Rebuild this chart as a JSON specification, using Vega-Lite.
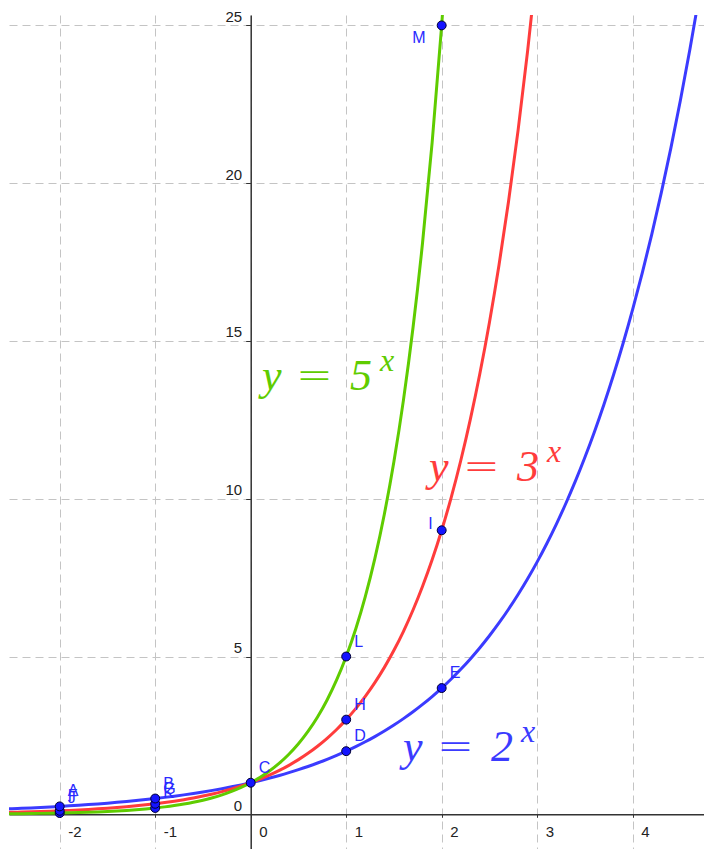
{
  "$schema": "https://vega.github.io/schema/vega-lite/v6.json",
  "width": 695,
  "height": 834,
  "autosize": {"type": "none"},
  "padding": {"left": 9, "top": 15, "right": 0, "bottom": 0},
  "background": "white",
  "config": {"view": {"stroke": null}},
  "datasets": {
    "curves": [
      {"f":"2^x","x":-2.6,"y":0.1649},{"f":"2^x","x":-2.5,"y":0.1768},{"f":"2^x","x":-2.4,"y":0.1895},{"f":"2^x","x":-2.3,"y":0.2031},{"f":"2^x","x":-2.2,"y":0.2176},{"f":"2^x","x":-2.1,"y":0.2333},{"f":"2^x","x":-2.0,"y":0.25},{"f":"2^x","x":-1.9,"y":0.2679},{"f":"2^x","x":-1.8,"y":0.2872},{"f":"2^x","x":-1.7,"y":0.3078},{"f":"2^x","x":-1.6,"y":0.3299},{"f":"2^x","x":-1.5,"y":0.3536},{"f":"2^x","x":-1.4,"y":0.3789},{"f":"2^x","x":-1.3,"y":0.4061},{"f":"2^x","x":-1.2,"y":0.4353},{"f":"2^x","x":-1.1,"y":0.4665},{"f":"2^x","x":-1.0,"y":0.5},{"f":"2^x","x":-0.9,"y":0.5359},{"f":"2^x","x":-0.8,"y":0.5743},{"f":"2^x","x":-0.7,"y":0.6156},{"f":"2^x","x":-0.6,"y":0.6598},{"f":"2^x","x":-0.5,"y":0.7071},{"f":"2^x","x":-0.4,"y":0.7579},{"f":"2^x","x":-0.3,"y":0.8123},{"f":"2^x","x":-0.2,"y":0.8706},{"f":"2^x","x":-0.1,"y":0.933},{"f":"2^x","x":0,"y":1},{"f":"2^x","x":0.1,"y":1.0718},{"f":"2^x","x":0.2,"y":1.1487},{"f":"2^x","x":0.3,"y":1.2311},{"f":"2^x","x":0.4,"y":1.3195},{"f":"2^x","x":0.5,"y":1.4142},{"f":"2^x","x":0.6,"y":1.5157},{"f":"2^x","x":0.7,"y":1.6245},{"f":"2^x","x":0.8,"y":1.7411},{"f":"2^x","x":0.9,"y":1.8661},{"f":"2^x","x":1.0,"y":2},{"f":"2^x","x":1.1,"y":2.1435},{"f":"2^x","x":1.2,"y":2.2974},{"f":"2^x","x":1.3,"y":2.4623},{"f":"2^x","x":1.4,"y":2.639},{"f":"2^x","x":1.5,"y":2.8284},{"f":"2^x","x":1.6,"y":3.0314},{"f":"2^x","x":1.7,"y":3.249},{"f":"2^x","x":1.8,"y":3.4822},{"f":"2^x","x":1.9,"y":3.7321},{"f":"2^x","x":2.0,"y":4},{"f":"2^x","x":2.1,"y":4.2871},{"f":"2^x","x":2.2,"y":4.5948},{"f":"2^x","x":2.3,"y":4.9246},{"f":"2^x","x":2.4,"y":5.278},{"f":"2^x","x":2.5,"y":5.6569},{"f":"2^x","x":2.6,"y":6.0629},{"f":"2^x","x":2.7,"y":6.498},{"f":"2^x","x":2.8,"y":6.9644},{"f":"2^x","x":2.9,"y":7.4643},{"f":"2^x","x":3.0,"y":8},{"f":"2^x","x":3.1,"y":8.5742},{"f":"2^x","x":3.2,"y":9.1896},{"f":"2^x","x":3.3,"y":9.8492},{"f":"2^x","x":3.4,"y":10.5561},{"f":"2^x","x":3.5,"y":11.3137},{"f":"2^x","x":3.6,"y":12.1257},{"f":"2^x","x":3.7,"y":12.996},{"f":"2^x","x":3.8,"y":13.9288},{"f":"2^x","x":3.9,"y":14.9285},{"f":"2^x","x":4.0,"y":16},{"f":"2^x","x":4.1,"y":17.1484},{"f":"2^x","x":4.2,"y":18.3792},{"f":"2^x","x":4.3,"y":19.6983},{"f":"2^x","x":4.4,"y":21.1121},{"f":"2^x","x":4.5,"y":22.6274},{"f":"2^x","x":4.6,"y":24.2515},{"f":"2^x","x":4.7,"y":25.9921},{"f":"2^x","x":4.8,"y":27.8576},
      {"f":"3^x","x":-2.6,"y":0.05747},{"f":"3^x","x":-2.5,"y":0.06415},{"f":"3^x","x":-2.4,"y":0.0716},{"f":"3^x","x":-2.3,"y":0.07991},{"f":"3^x","x":-2.2,"y":0.08919},{"f":"3^x","x":-2.1,"y":0.09955},{"f":"3^x","x":-2.0,"y":0.11111},{"f":"3^x","x":-1.9,"y":0.12402},{"f":"3^x","x":-1.8,"y":0.13842},{"f":"3^x","x":-1.7,"y":0.1545},{"f":"3^x","x":-1.6,"y":0.17244},{"f":"3^x","x":-1.5,"y":0.19245},{"f":"3^x","x":-1.4,"y":0.2148},{"f":"3^x","x":-1.3,"y":0.23975},{"f":"3^x","x":-1.2,"y":0.26758},{"f":"3^x","x":-1.1,"y":0.29866},{"f":"3^x","x":-1.0,"y":0.33333},{"f":"3^x","x":-0.9,"y":0.37204},{"f":"3^x","x":-0.8,"y":0.41524},{"f":"3^x","x":-0.7,"y":0.46346},{"f":"3^x","x":-0.6,"y":0.51728},{"f":"3^x","x":-0.5,"y":0.57735},{"f":"3^x","x":-0.4,"y":0.64439},{"f":"3^x","x":-0.3,"y":0.71922},{"f":"3^x","x":-0.2,"y":0.80274},{"f":"3^x","x":-0.1,"y":0.89596},{"f":"3^x","x":0,"y":1},{"f":"3^x","x":0.1,"y":1.11612},{"f":"3^x","x":0.2,"y":1.24573},{"f":"3^x","x":0.3,"y":1.39039},{"f":"3^x","x":0.4,"y":1.55185},{"f":"3^x","x":0.5,"y":1.73205},{"f":"3^x","x":0.6,"y":1.93318},{"f":"3^x","x":0.7,"y":2.15767},{"f":"3^x","x":0.8,"y":2.40822},{"f":"3^x","x":0.9,"y":2.68787},{"f":"3^x","x":1.0,"y":3},{"f":"3^x","x":1.1,"y":3.34837},{"f":"3^x","x":1.2,"y":3.73719},{"f":"3^x","x":1.3,"y":4.17118},{"f":"3^x","x":1.4,"y":4.65554},{"f":"3^x","x":1.5,"y":5.19615},{"f":"3^x","x":1.6,"y":5.79955},{"f":"3^x","x":1.7,"y":6.473},{"f":"3^x","x":1.8,"y":7.22467},{"f":"3^x","x":1.9,"y":8.06362},{"f":"3^x","x":2.0,"y":9},{"f":"3^x","x":2.1,"y":10.0451},{"f":"3^x","x":2.2,"y":11.2116},{"f":"3^x","x":2.3,"y":12.5135},{"f":"3^x","x":2.4,"y":13.9666},{"f":"3^x","x":2.5,"y":15.5885},{"f":"3^x","x":2.6,"y":17.3986},{"f":"3^x","x":2.7,"y":19.419},{"f":"3^x","x":2.8,"y":21.674},{"f":"3^x","x":2.9,"y":24.1909},{"f":"3^x","x":3.0,"y":27},
      {"f":"5^x","x":-2.6,"y":0.01523},{"f":"5^x","x":-2.5,"y":0.01789},{"f":"5^x","x":-2.4,"y":0.02101},{"f":"5^x","x":-2.3,"y":0.02468},{"f":"5^x","x":-2.2,"y":0.02899},{"f":"5^x","x":-2.1,"y":0.03405},{"f":"5^x","x":-2.0,"y":0.04},{"f":"5^x","x":-1.9,"y":0.04698},{"f":"5^x","x":-1.8,"y":0.05519},{"f":"5^x","x":-1.7,"y":0.06482},{"f":"5^x","x":-1.6,"y":0.07614},{"f":"5^x","x":-1.5,"y":0.08944},{"f":"5^x","x":-1.4,"y":0.10506},{"f":"5^x","x":-1.3,"y":0.1234},{"f":"5^x","x":-1.2,"y":0.14495},{"f":"5^x","x":-1.1,"y":0.17026},{"f":"5^x","x":-1.0,"y":0.2},{"f":"5^x","x":-0.9,"y":0.23492},{"f":"5^x","x":-0.8,"y":0.27595},{"f":"5^x","x":-0.7,"y":0.32413},{"f":"5^x","x":-0.6,"y":0.38073},{"f":"5^x","x":-0.5,"y":0.44721},{"f":"5^x","x":-0.4,"y":0.52531},{"f":"5^x","x":-0.3,"y":0.61703},{"f":"5^x","x":-0.2,"y":0.72478},{"f":"5^x","x":-0.1,"y":0.85134},{"f":"5^x","x":0,"y":1},{"f":"5^x","x":0.1,"y":1.17462},{"f":"5^x","x":0.2,"y":1.37973},{"f":"5^x","x":0.3,"y":1.62066},{"f":"5^x","x":0.4,"y":1.90365},{"f":"5^x","x":0.5,"y":2.23607},{"f":"5^x","x":0.6,"y":2.62653},{"f":"5^x","x":0.7,"y":3.08516},{"f":"5^x","x":0.8,"y":3.6239},{"f":"5^x","x":0.9,"y":4.25669},{"f":"5^x","x":1.0,"y":5},{"f":"5^x","x":1.1,"y":5.8731},{"f":"5^x","x":1.2,"y":6.89864},{"f":"5^x","x":1.3,"y":8.10328},{"f":"5^x","x":1.4,"y":9.51827},{"f":"5^x","x":1.5,"y":11.1803},{"f":"5^x","x":1.6,"y":13.1326},{"f":"5^x","x":1.7,"y":15.4258},{"f":"5^x","x":1.8,"y":18.1195},{"f":"5^x","x":1.9,"y":21.2835},{"f":"5^x","x":2.0,"y":25},{"f":"5^x","x":2.1,"y":29.3655}
    ],
    "pts": [
      {"name":"J","f":"5^x","x":-2,"y":0.04},
      {"name":"F","f":"3^x","x":-2,"y":0.1111},
      {"name":"A","f":"2^x","x":-2,"y":0.25},
      {"name":"K","f":"5^x","x":-1,"y":0.2},
      {"name":"G","f":"3^x","x":-1,"y":0.3333},
      {"name":"B","f":"2^x","x":-1,"y":0.5},
      {"name":"C","f":"2^x","x":0,"y":1},
      {"name":"D","f":"2^x","x":1,"y":2},
      {"name":"H","f":"3^x","x":1,"y":3},
      {"name":"L","f":"5^x","x":1,"y":5},
      {"name":"E","f":"2^x","x":2,"y":4},
      {"name":"I","f":"3^x","x":2,"y":9},
      {"name":"M","f":"5^x","x":2,"y":25}
    ],
    "eqs": [
      {"f":"5^x","base":"5","x":0.118,"y":13.45},
      {"f":"3^x","base":"3","x":1.867,"y":10.56},
      {"f":"2^x","base":"2","x":1.595,"y":1.69}
    ]
  },
  "encoding": {
    "x": {
      "field": "x", "type": "quantitative",
      "scale": {"domain": [-2.531, 4.747], "nice": false, "zero": false},
      "axis": {
        "title": null, "values": [-2, -1, 0, 1, 2, 3, 4], "offset": -34.7,
        "labelExpr": "'' + datum.value",
        "domainColor": "#333333", "domainWidth": 1.5, "tickColor": "#333333", "tickSize": 3,
        "labelAlign": "left", "labelOffset": 8, "labelBaseline": "middle", "labelPadding": 14,
        "labelFont": "Liberation Sans", "labelFontSize": 15, "labelColor": "#222222",
        "labelFlush": false, "labelOverlap": false, "labelBound": false,
        "grid": true, "gridDash": [8, 5], "gridColor": "#c4c4c4", "gridWidth": 1
      }
    },
    "y": {
      "field": "y", "type": "quantitative",
      "scale": {"domain": [-1.10, 25.33], "nice": false, "zero": false},
      "axis": {
        "title": null, "values": [0, 5, 10, 15, 20, 25], "offset": -241.7,
        "domainColor": "#333333", "domainWidth": 1.5, "tickColor": "#333333", "tickSize": 5,
        "labelAlign": "right", "labelOffset": -9, "labelBaseline": "middle", "labelPadding": 4,
        "labelFont": "Liberation Sans", "labelFontSize": 15, "labelColor": "#222222",
        "labelFlush": false, "labelOverlap": false, "labelBound": false,
        "grid": true, "gridDash": [8, 5], "gridColor": "#c4c4c4", "gridWidth": 1
      }
    }
  },
  "layer": [
    {
      "data": {"name": "curves"},
      "mark": {"type": "line", "strokeWidth": 3, "clip": true, "interpolate": "monotone"},
      "encoding": {
        "color": {"field": "f", "type": "nominal", "scale": {"domain": ["5^x", "3^x", "2^x"], "range": ["#5fcc00", "#ff3c3c", "#3b3bff"]}, "legend": null}
      }
    },
    {
      "data": {"name": "pts"},
      "mark": {"type": "point", "shape": "circle", "filled": true, "size": 80, "fill": "#1414ff", "stroke": "#000033", "strokeWidth": 1, "opacity": 1}
    },
    {
      "data": {"name": "pts"},
      "transform": [{"filter": "datum.name != 'M' && datum.name != 'I'"}],
      "mark": {"type": "text", "align": "left", "baseline": "alphabetic", "dx": 8, "dy": -10, "font": "Liberation Sans", "fontSize": 16, "color": "#2a2aff"},
      "encoding": {"text": {"field": "name"}}
    },
    {
      "data": {"name": "pts"},
      "transform": [{"filter": "datum.name == 'M'"}],
      "mark": {"type": "text", "align": "right", "baseline": "alphabetic", "dx": -16, "dy": 18, "font": "Liberation Sans", "fontSize": 16, "color": "#2a2aff"},
      "encoding": {"text": {"field": "name"}}
    },
    {
      "data": {"name": "pts"},
      "transform": [{"filter": "datum.name == 'I'"}],
      "mark": {"type": "text", "align": "right", "baseline": "alphabetic", "dx": -9, "dy": -1, "font": "Liberation Sans", "fontSize": 16, "color": "#2a2aff"},
      "encoding": {"text": {"field": "name"}}
    },
    {
      "data": {"name": "eqs"},
      "mark": {"type": "text", "text": "y", "align": "left", "baseline": "alphabetic", "font": "Liberation Serif", "fontStyle": "italic", "fontSize": 44},
      "encoding": {"color": {"field": "f", "type": "nominal", "legend": null}}
    },
    {
      "data": {"name": "eqs"},
      "mark": {"type": "text", "text": "=", "align": "left", "baseline": "alphabetic", "dx": 34, "font": "DejaVu Sans", "fontWeight": 200, "fontSize": 44},
      "encoding": {"color": {"field": "f", "type": "nominal", "legend": null}}
    },
    {
      "data": {"name": "eqs"},
      "mark": {"type": "text", "align": "left", "baseline": "alphabetic", "dx": 88, "font": "Liberation Serif", "fontStyle": "italic", "fontSize": 44},
      "encoding": {"text": {"field": "base"}, "color": {"field": "f", "type": "nominal", "legend": null}}
    },
    {
      "data": {"name": "eqs"},
      "mark": {"type": "text", "text": "x", "align": "left", "baseline": "alphabetic", "dx": 118, "dy": -19, "font": "Liberation Serif", "fontStyle": "italic", "fontSize": 32},
      "encoding": {"color": {"field": "f", "type": "nominal", "legend": null}}
    }
  ]
}
